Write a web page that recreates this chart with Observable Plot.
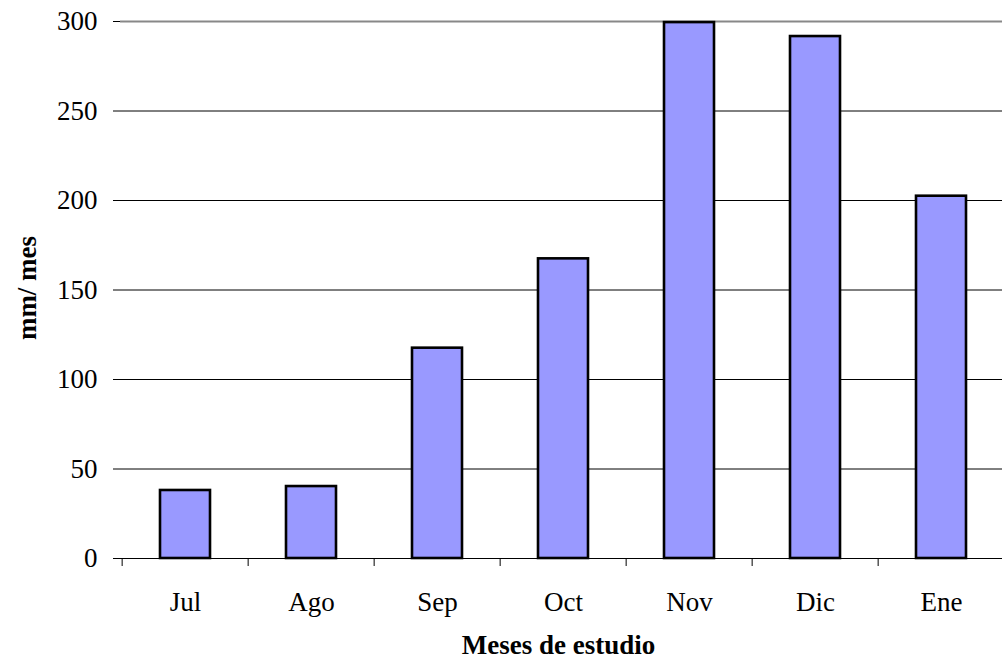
<!DOCTYPE html>
<html>
<head>
<meta charset="utf-8">
<script src="https://cdn.jsdelivr.net/npm/d3@7"></script>
<script src="https://cdn.jsdelivr.net/npm/@observablehq/plot@0.6"></script>
<style>
  html, body { margin: 0; padding: 0; background: #fff; }
  #chart svg { display: block; }
</style>
</head>
<body>
<div id="chart"></div>
<script>
// Monthly precipitation over the study months
const months = ["Jul", "Ago", "Sep", "Oct", "Nov", "Dic", "Ene"];
const rainfall = [38, 40.2, 117.5, 167.4, 299.4, 291.6, 202.4];
const yTicks = [0, 50, 100, 150, 200, 250, 300];

const data = months.map((m, i) => ({month: m, value: rainfall[i]}));

const W = 1002, H = 662;
const left = 120, right = 1007;
const step = (right - left) / months.length;
const font = "'Liberation Serif', 'Times New Roman', serif";

const chart = Plot.plot({
  width: W,
  height: H,
  marginTop: 21,
  marginBottom: 104,
  marginLeft: left,
  marginRight: 0,
  style: {fontFamily: font, fontSize: "27px", color: "#000", background: "#fff"},
  x: {domain: months, range: [left, right], paddingInner: 0.6, paddingOuter: 0.3, label: null},
  y: {domain: [0, 300], label: null},
  marks: [
    Plot.gridY(yTicks.filter(t => t > 0 && t < 300), {stroke: "#000", strokeOpacity: 1, strokeWidth: 1}),
    Plot.ruleY([300], {stroke: "#888", strokeWidth: 2}),
    Plot.barY(data, {x: "month", y: "value", fill: "#9999FF", stroke: "#000", strokeWidth: 2.6}),
    Plot.ruleY([0], {stroke: "#000", strokeWidth: 1.2}),
    // category boundary ticks below the baseline
    Plot.axisX({tickSize: 8, tickFormat: () => "", dx: -step / 2, stroke: "#000"}),
    Plot.axisX({tickSize: 0, tickPadding: 33, fontSize: 27, fill: "#000"}),
    Plot.axisY({ticks: yTicks, tickSize: 7, tickPadding: 16, line: true, stroke: "#000", fontSize: 27, fill: "#000"}),
    Plot.text(["Meses de estudio"], {
      frameAnchor: "bottom", dy: 95, dx: -3, lineAnchor: "bottom",
      fontWeight: "bold", fontSize: 27, fill: "#000"
    }),
    Plot.text(["mm/ mes"], {
      frameAnchor: "left", textAnchor: "middle", dx: -93, dy: -2, rotate: -90,
      fontWeight: "bold", fontSize: 27, fill: "#000"
    })
  ]
});

document.getElementById("chart").appendChild(chart);
</script>
</body>
</html>
